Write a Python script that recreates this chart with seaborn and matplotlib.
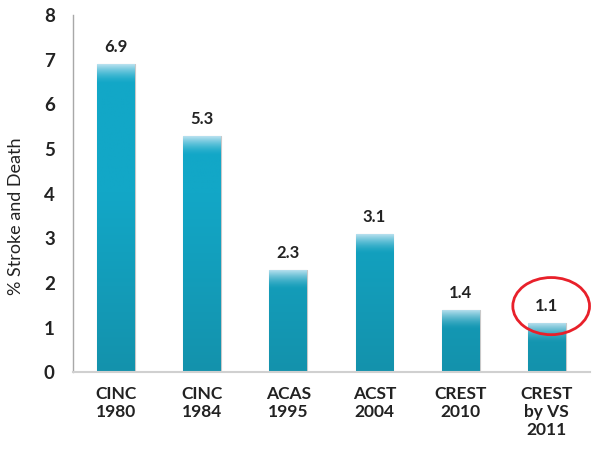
import matplotlib
matplotlib.use("Agg")
import matplotlib.pyplot as plt
from matplotlib.colors import to_rgb
from matplotlib.patches import Ellipse
import numpy as np
import pandas as pd
import seaborn as sns

trials = ["CINC\n1980", "CINC\n1984", "ACAS\n1995", "ACST\n2004", "CREST\n2010", "CREST\nby VS\n2011"]
stroke_death = [6.9, 5.3, 2.3, 3.1, 1.4, 1.1]
value_labels = ["6.9", "5.3", "2.3", "3.1", "1.4", "1.1"]

df = pd.DataFrame({"trial": trials, "pct": stroke_death})

sns.set_style("white")
plt.rcParams["font.family"] = ["Lato", "DejaVu Sans"]

fig = plt.figure(figsize=(6.02, 4.55), dpi=100)
ax = fig.add_axes([0.121, 0.182, 0.859, 0.785])

sns.barplot(data=df, x="trial", y="pct", color="#12a6c6", width=0.44,
            edgecolor="#c8c8c8", linewidth=0.8, ax=ax)

# bar shading: short light cap at the top, slow darkening toward the base
top_c = np.array(to_rgb("#c4e5f2"))
mid_c = np.array(to_rgb("#12a7c7"))
low_c = np.array(to_rgb("#1492ac"))
for p in ax.patches:
    x0, y0 = p.get_x(), p.get_y()
    w, h = p.get_width(), p.get_height()
    ys = np.linspace(0, h, 300)
    dist_top = h - ys
    cap = np.clip(1 - dist_top / 0.45, 0, 1) ** 1.6
    base = np.clip(1 - ys / 4.0, 0, 1)
    body = mid_c[None, :] * (1 - base[:, None]) + low_c[None, :] * base[:, None]
    col = body * (1 - cap[:, None]) + top_c[None, :] * cap[:, None]
    img = np.repeat(col[:, None, :], 2, axis=1)
    im = ax.imshow(img, aspect="auto", origin="lower",
                   extent=[x0, x0 + w, y0, y0 + h], zorder=p.get_zorder())
    im.set_clip_path(p)

for i, (v, lab) in enumerate(zip(stroke_death, value_labels)):
    ax.text(i, v + 0.2, lab, ha="center", va="bottom", fontsize=12,
            fontweight="bold", color="#222222")

ax.set_xlim(-0.5, len(trials) - 0.5)
ax.set_ylim(0, 8)
ax.set_yticks(range(0, 9))
ax.set_xlabel("")
ax.set_ylabel("% Stroke and Death", fontsize=13, color="#222222")
ax.yaxis.set_label_coords(-0.095, 0.437)
ax.tick_params(axis="y", labelsize=13.5, length=0, pad=13, colors="#222222")
ax.tick_params(axis="x", labelsize=12.5, length=0, pad=10, colors="#222222")
for t in ax.get_yticklabels() + ax.get_xticklabels():
    t.set_fontweight("bold")
for t in ax.get_xticklabels():
    t.set_linespacing(1.15)

for s in ["top", "right"]:
    ax.spines[s].set_visible(False)
ax.spines["left"].set_color("#a8a8a8")
ax.spines["bottom"].set_color("#d0d0d0")
ax.spines["left"].set_linewidth(1.0)
ax.spines["bottom"].set_linewidth(1.5)

ax.add_patch(Ellipse((5.05, 1.48), 0.89, 1.28, fill=False, edgecolor="#e8202a",
                     linewidth=2.0, clip_on=False, zorder=5))

fig.savefig("out.png", dpi=100)
